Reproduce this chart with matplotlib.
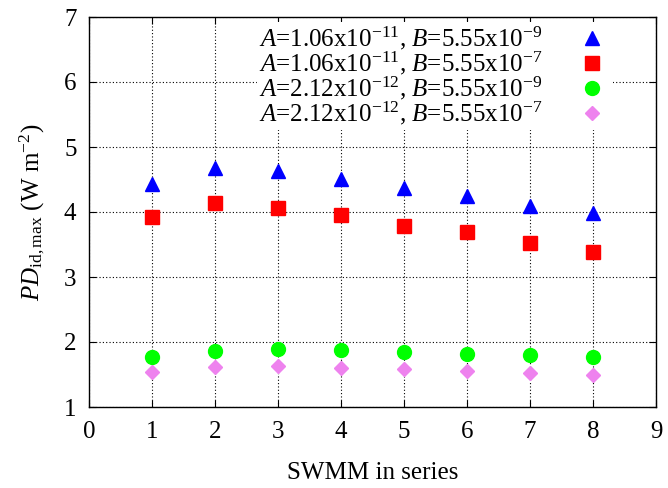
import matplotlib.pyplot as plt

plt.rcParams["font.family"] = ["Liberation Serif", "DejaVu Serif"]
plt.rcParams["mathtext.fontset"] = "custom"
plt.rcParams["mathtext.rm"] = "Liberation Serif"
plt.rcParams["mathtext.it"] = "Liberation Serif:italic"

swmm = [1, 2, 3, 4, 5, 6, 7, 8]
pd_a1_b9 = [4.43, 4.68, 4.63, 4.51, 4.37, 4.25, 4.09, 3.98]
pd_a1_b7 = [3.92, 4.14, 4.06, 3.95, 3.78, 3.69, 3.52, 3.38]
pd_a2_b9 = [1.77, 1.86, 1.89, 1.88, 1.85, 1.82, 1.80, 1.77]
pd_a2_b7 = [1.54, 1.62, 1.63, 1.60, 1.58, 1.55, 1.52, 1.49]

labels = [
    r"$A$=1.06x10$^{-11}$, $B$=5.55x10$^{-9}$",
    r"$A$=1.06x10$^{-11}$, $B$=5.55x10$^{-7}$",
    r"$A$=2.12x10$^{-12}$, $B$=5.55x10$^{-9}$",
    r"$A$=2.12x10$^{-12}$, $B$=5.55x10$^{-7}$",
]

fig = plt.figure(figsize=(6.68, 4.88), dpi=100)
ax = fig.add_axes([89 / 668, 81 / 488, 567 / 668, 390 / 488])

ax.plot(swmm, pd_a1_b9, "^", color="#0000ff", ms=10, ls="none", label=labels[0])
ax.plot(swmm, pd_a1_b7, "s", color="#ff0000", ms=10, ls="none", label=labels[1])
ax.plot(swmm, pd_a2_b9, "o", color="#00ff00", ms=10, ls="none", label=labels[2])
ax.plot(swmm, pd_a2_b7, "D", color="#ee82ee", ms=7, ls="none", label=labels[3])

ax.set_xlim(0, 9)
ax.set_ylim(1, 7)
ax.set_xticks(range(0, 10))
ax.set_yticks(range(1, 8))
ax.grid(True, color="black", ls=(0, (1, 2)), lw=0.8)
ax.tick_params(direction="in", top=True, right=True, length=5, labelsize=18)
ax.tick_params(axis="x", pad=10)
ax.tick_params(axis="y", pad=9)
for s in ax.spines.values():
    s.set_linewidth(1.0)

ax.set_xlabel("SWMM in series", fontsize=18, labelpad=14)
ax.set_ylabel(r"$PD_{\mathrm{id,max}}$ (W m$^{-2}$)", fontsize=18, labelpad=12)

leg = ax.legend(loc="upper right", bbox_to_anchor=(0.946, 1.018), markerfirst=False,
                fontsize=18, frameon=True, fancybox=False, framealpha=1,
                edgecolor="none", handlelength=1.5, handletextpad=1.2,
                labelspacing=-0.1, borderpad=0.1)

fig.savefig("out.png", dpi=100)
